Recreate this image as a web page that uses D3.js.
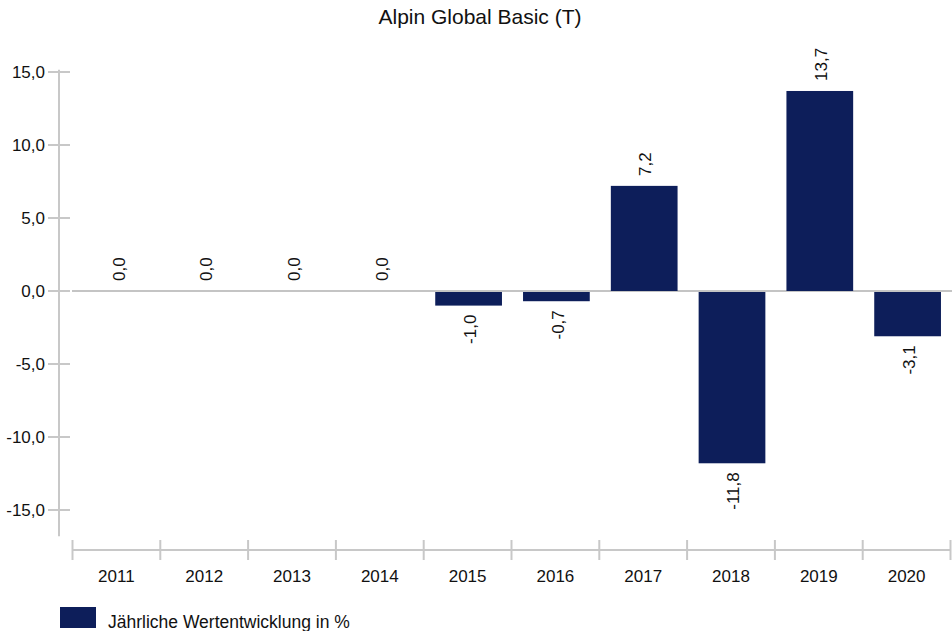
<!DOCTYPE html>
<html>
<head>
<meta charset="utf-8">
<script src="https://cdn.jsdelivr.net/npm/d3@7"></script>
<style>
  body { margin: 0; background: #fff; }
  text { font-family: "Liberation Sans", Arial, sans-serif; fill: #111; }
</style>
</head>
<body>
<div id="chart"></div>
<script>
// data
var years = ["2011", "2012", "2013", "2014", "2015", "2016", "2017", "2018", "2019", "2020"];
var values = [0.0, 0.0, 0.0, 0.0, -1.0, -0.7, 7.2, -11.8, 13.7, -3.1];
var yTicks = [15, 10, 5, 0, -5, -10, -15];
var title = "Alpin Global Basic (T)";
var legendLabel = "Jährliche Wertentwicklung in %";

var svgWidth = 952;
var svgHeight = 631;
var barColor = "#0d1e5a";
var axisColor = "#c8c8c8";

var fmt = function(v) { return d3.format(".1f")(v).replace(".", ",").replace("−", "-"); };

var svg = d3.select("#chart")
  .append("svg")
  .attr("width", svgWidth)
  .attr("height", svgHeight);

// scales
var xScale = d3.scaleBand()
  .domain(years)
  .range([73.5, 951.5])
  .paddingInner(0.24)
  .paddingOuter(0.12);

var xOuter = d3.scaleBand()
  .domain(years)
  .range([72.5, 950.5])
  .padding(0);

var yScale = d3.scaleLinear()
  .domain([-15, 15])
  .range([510, 72]);

// title
svg.append("text")
  .attr("x", 480)
  .attr("y", 24)
  .attr("text-anchor", "middle")
  .style("font-size", "21px")
  .text(title);

// y axis line
svg.append("line")
  .attr("x1", 59).attr("x2", 59)
  .attr("y1", yScale(15.15)).attr("y2", yScale(-16.8))
  .attr("stroke", axisColor)
  .attr("stroke-width", 2);

var yTickG = svg.selectAll(".ytick")
  .data(yTicks)
  .enter()
  .append("g")
  .attr("transform", d => `translate(0, ${yScale(d)})`);

yTickG.append("line")
  .attr("x1", 48).attr("x2", 70)
  .attr("stroke", axisColor)
  .attr("stroke-width", 2);

yTickG.append("text")
  .attr("x", 45)
  .attr("dy", "0.36em")
  .attr("text-anchor", "end")
  .style("font-size", "17px")
  .text(d => fmt(d));

// zero line
svg.append("line")
  .attr("x1", 72).attr("x2", svgWidth)
  .attr("y1", yScale(0)).attr("y2", yScale(0))
  .attr("stroke", "#c4c4c4")
  .attr("stroke-width", 2);

// x axis
var xAxisY = 550;
svg.append("line")
  .attr("x1", xOuter.range()[0]).attr("x2", xOuter.range()[1])
  .attr("y1", xAxisY).attr("y2", xAxisY)
  .attr("stroke", axisColor)
  .attr("stroke-width", 2);

var boundaries = years.map(d => xOuter(d)).concat([xOuter.range()[1]]);
svg.selectAll(".xtick")
  .data(boundaries)
  .enter()
  .append("line")
  .attr("x1", d => d).attr("x2", d => d)
  .attr("y1", 540).attr("y2", 560)
  .attr("stroke", axisColor)
  .attr("stroke-width", 2);

svg.selectAll(".xlabel")
  .data(years)
  .enter()
  .append("text")
  .attr("x", d => xOuter(d) + xOuter.bandwidth() / 2)
  .attr("y", 582)
  .attr("text-anchor", "middle")
  .style("font-size", "17px")
  .text(d => d);

// bars
svg.selectAll(".bar")
  .data(values)
  .enter()
  .append("rect")
  .attr("x", (d, i) => xScale(years[i]))
  .attr("width", xScale.bandwidth())
  .attr("y", d => d >= 0 ? yScale(d) : yScale(0) + 1)
  .attr("height", d => Math.max(0, Math.abs(yScale(d) - yScale(0)) - (d < 0 ? 1 : 0)))
  .attr("fill", barColor);

// value labels, rotated
svg.selectAll(".vlabel")
  .data(values)
  .enter()
  .append("text")
  .attr("transform", (d, i) => {
    var cx = xScale(years[i]) + xScale.bandwidth() / 2 + 1;
    var cy = d >= 0 ? yScale(d) - 10 : yScale(d) + 9;
    return `translate(${cx}, ${cy}) rotate(-90)`;
  })
  .attr("dy", "0.36em")
  .attr("text-anchor", d => d >= 0 ? "start" : "end")
  .style("font-size", "17px")
  .text(d => fmt(d));

// legend
svg.append("rect")
  .attr("x", 60).attr("y", 607)
  .attr("width", 36).attr("height", 21)
  .attr("fill", barColor);

svg.append("text")
  .attr("x", 108)
  .attr("y", 628)
  .style("font-size", "17.5px")
  .text(legendLabel);
</script>
</body>
</html>
